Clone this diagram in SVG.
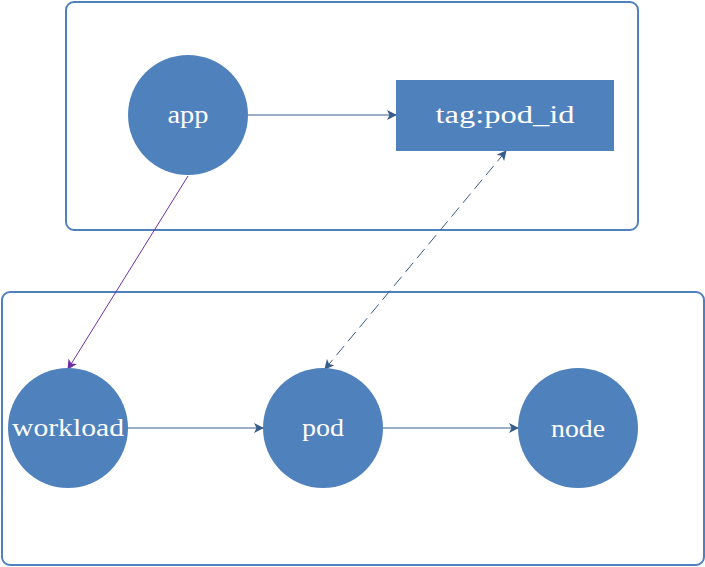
<svg xmlns="http://www.w3.org/2000/svg" width="705" height="567" viewBox="0 0 705 567">
  <style>
    .box { fill: none; stroke: #4f81bd; stroke-width: 2; }
    .shape { fill: #4f81bd; }
    .label { fill: #ffffff; font-family: "Liberation Serif", "DejaVu Serif", serif; font-size: 25px; text-anchor: middle; }
    .edge { fill: none; stroke: #385d8a; stroke-width: 1; }
    .edge-purple { fill: none; stroke: #7030a0; stroke-width: 1; }
    .dashed { stroke-dasharray: 12 6; }
  </style>
  <defs>
    <marker id="arrow" viewBox="0 0 10 10" refX="9" refY="5" markerWidth="10" markerHeight="10" markerUnits="userSpaceOnUse" orient="auto-start-reverse">
      <path d="M0,0 L10,5 L0,10 L2.5,5 Z" fill="#385d8a"/>
    </marker>
    <marker id="arrow-purple" viewBox="0 0 10 10" refX="9" refY="5" markerWidth="10" markerHeight="10" markerUnits="userSpaceOnUse" orient="auto">
      <path d="M0,0 L10,5 L0,10 L2.5,5 Z" fill="#7030a0"/>
    </marker>
  </defs>

  <!-- containers -->
  <rect class="box" x="66" y="2" width="572" height="228" rx="8"/>
  <rect class="box" x="2" y="292" width="702" height="273" rx="8"/>

  <!-- connectors -->
  <g id="connectors">
    <line class="edge" x1="248" y1="115" x2="396" y2="115" marker-end="url(#arrow)"/>
    <line class="edge-purple" x1="188" y1="176" x2="68" y2="369" marker-end="url(#arrow-purple)"/>
    <line class="edge dashed" x1="325" y1="369" x2="506" y2="151" marker-start="url(#arrow)" marker-end="url(#arrow)"/>
    <line class="edge" x1="128" y1="428" x2="263" y2="428" marker-end="url(#arrow)"/>
    <line class="edge" x1="383" y1="428" x2="518" y2="428" marker-end="url(#arrow)"/>
  </g>

  <!-- nodes -->
  <g id="app">
    <circle class="shape" cx="188" cy="115" r="60"/>
    <text class="label" x="188" y="123" textLength="41" lengthAdjust="spacingAndGlyphs">app</text>
  </g>
  <g id="tag">
    <rect class="shape" x="396" y="80" width="218" height="71"/>
    <text class="label" x="505" y="123" textLength="139" lengthAdjust="spacingAndGlyphs">tag:pod_id</text>
  </g>
  <g id="workload">
    <circle class="shape" cx="68" cy="428" r="60"/>
    <text class="label" x="68" y="436" textLength="112" lengthAdjust="spacingAndGlyphs">workload</text>
  </g>
  <g id="pod">
    <circle class="shape" cx="323" cy="428" r="60"/>
    <text class="label" x="323" y="436" textLength="42" lengthAdjust="spacingAndGlyphs">pod</text>
  </g>
  <g id="node">
    <circle class="shape" cx="578" cy="428" r="60"/>
    <text class="label" x="578" y="437" textLength="54" lengthAdjust="spacingAndGlyphs">node</text>
  </g>
</svg>
